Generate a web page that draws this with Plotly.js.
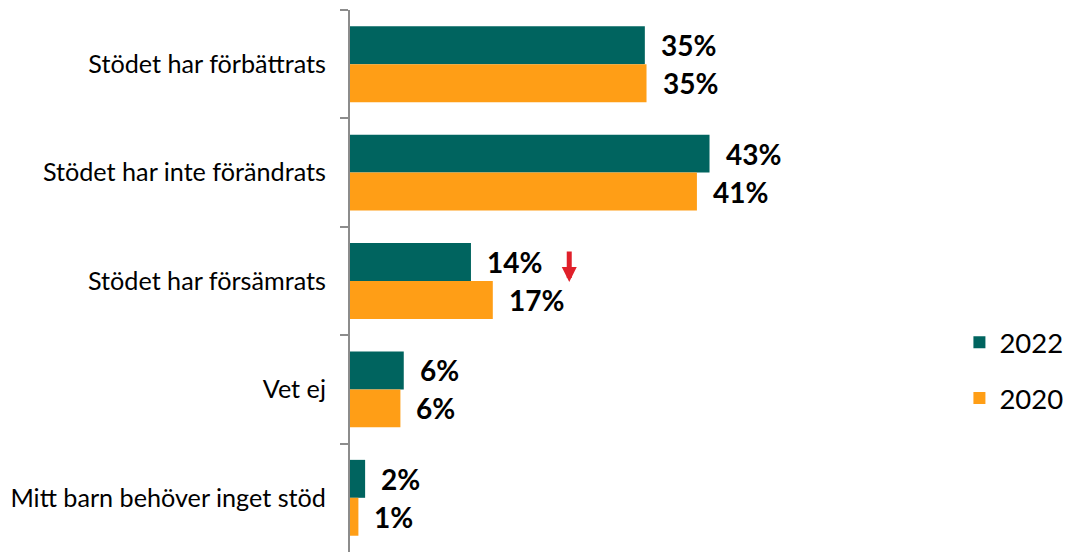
<!DOCTYPE html>
<html><head><meta charset="utf-8">
<script src="https://cdn.plot.ly/plotly-3.0.1.min.js"></script>
<style>html,body{margin:0;padding:0;background:#fff}#chart{width:1069px;height:552px}</style>
</head><body><div id="chart"></div>
<script>
const categories = ["Stödet har förbättrats","Stödet har inte förändrats","Stödet har försämrats","Vet ej","Mitt barn behöver inget stöd"];
const values2022 = [35.1, 42.8, 14.4, 6.4, 1.8];
const values2020 = [35.3, 41.3, 17.0, 6.0, 1.0];
const labels2022 = ["35%","43%","14%","6%","2%"];
const labels2020 = ["35%","41%","17%","6%","1%"];
const seriesNames = ["2022","2020"];
const colors = ["#00645F","#FF9E16"];

const FONT = "Lato, 'Open Sans', sans-serif";
const traces = [
  {type:'bar', orientation:'h', name:seriesNames[0], y:categories, x:values2022, marker:{color:colors[0]}, legendgroup:'a', hoverinfo:'skip'},
  {type:'bar', orientation:'h', name:seriesNames[1], y:categories, x:values2020, marker:{color:colors[1]}, legendgroup:'b', hoverinfo:'skip'}
];
const annotations = [];
const off = 19;
categories.forEach((c,i)=>{
  annotations.push({x:values2022[i], y:c, xref:'x', yref:'y', text:labels2022[i], showarrow:false, xanchor:'left', xshift:14, yshift:off, font:{family:FONT, size:28, color:'#000', weight:'bold'}});
  annotations.push({x:values2020[i], y:c, xref:'x', yref:'y', text:labels2020[i], showarrow:false, xanchor:'left', xshift:14, yshift:-off, font:{family:FONT, size:28, color:'#000', weight:'bold'}});
});
// red decline arrow next to the 2022 value of "Stödet har försämrats"
annotations.push({x:26.1, y:categories[2], xref:'x', yref:'y', yshift:-1, ax:0, ay:-32, showarrow:true, arrowhead:2, arrowsize:0.6, arrowwidth:5, arrowcolor:'#E0202A', text:''});

const layout = {
  width:1069, height:552,
  margin:{l:350, r:294, t:10, b:0},
  paper_bgcolor:'#fff', plot_bgcolor:'#fff',
  barmode:'group', bargap:0.3, bargroupgap:0,
  font:{family:FONT, color:'#000'},
  xaxis:{range:[0,50], showgrid:false, zeroline:false, showticklabels:false, showline:false, ticks:'', fixedrange:true},
  yaxis:{autorange:'reversed', showgrid:false, zeroline:false, showline:true, linecolor:'#8c8c8c', linewidth:2,
         ticks:'outside', tickson:'boundaries', ticklen:8, tickwidth:2, tickcolor:'#8c8c8c', ticklabelstandoff:17,
         tickfont:{family:FONT, size:25.2, color:'#000'}},
  showlegend:true,
  legend:{x:1.451, xanchor:'left', y:0.335, yanchor:'middle', traceorder:'grouped', tracegroupgap:17,
          font:{family:FONT, size:27.5, color:'#000'}, bgcolor:'rgba(0,0,0,0)'},
  annotations:annotations
};
Plotly.newPlot('chart', traces, layout, {staticPlot:true, displayModeBar:false});
</script></body></html>
